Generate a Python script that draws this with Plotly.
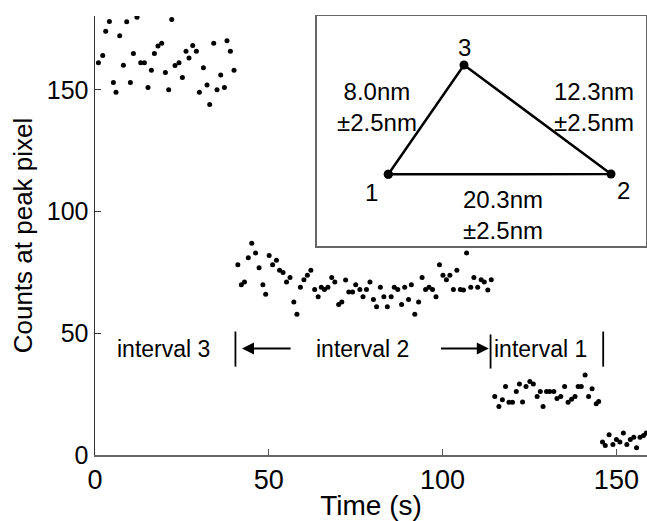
import plotly.graph_objects as go

# ---- data (time in s, counts at peak pixel) ----
t_int3 = [0.98, 2.22, 3.08, 4.14, 5.29, 6.04, 7.11, 8.17, 9.12, 10.18, 11.05, 12.08, 13.15, 14.21,
          15.25, 16.23, 17.09, 18.12, 19.19, 20.25, 21.2, 22.07, 23.02, 24.17, 25.14, 26.18, 27.04,
          28.11, 29.17, 30.03, 31.19, 32.22, 33.0, 34.15, 35.1, 36.16, 37.23, 37.97, 38.95, 39.99]
c_int3 = [161.1, 164.1, 174.0, 178.0, 153.0, 149.0, 172.2, 160.1, 177.9, 153.0, 164.9, 179.8, 161.1,
          161.1, 150.9, 158.0, 164.9, 168.0, 169.1, 157.1, 150.0, 178.8, 160.0, 161.1, 155.0, 165.8,
          163.0, 168.2, 165.8, 149.0, 159.0, 152.0, 143.9, 169.1, 150.0, 156.1, 150.9, 170.1, 165.8, 158.0]

t_int2 = [41.1, 42.1, 43.0, 44.1, 45.1, 46.2, 47.2, 48.3, 49.1, 50.1, 51.1, 52.2, 53.1, 54.1, 55.1,
          56.1, 57.2, 58.1, 59.1, 60.1, 61.1, 62.1, 63.2, 64.2, 65.1, 66.0, 67.0, 68.1, 69.0, 70.1,
          71.0, 72.1, 73.0, 74.1, 75.0, 76.2, 77.1, 78.1, 79.1, 80.1, 81.0, 82.1, 83.1, 84.1, 85.2,
          86.1, 87.1, 88.2, 89.1, 90.2, 91.0, 92.0, 93.1, 94.1, 95.1, 96.1, 97.1, 98.1, 99.1, 100.1,
          101.1, 102.1, 103.1, 104.1, 105.1, 106.0, 106.9, 108.1, 109.0, 110.1, 111.1, 112.0, 113.0, 114.0]
c_int2 = [78.1, 69.9, 71.0, 81.0, 87.0, 83.0, 76.9, 69.9, 66.0, 81.9, 78.1, 80.0, 75.9, 74.9, 71.0,
          72.9, 62.8, 57.8, 68.9, 72.0, 73.8, 75.9, 68.0, 65.0, 68.9, 68.0, 68.9, 72.9, 71.0, 61.8,
          62.8, 71.9, 66.9, 66.9, 69.9, 68.0, 65.0, 68.0, 71.0, 63.9, 60.9, 68.9, 65.0, 60.9, 65.0,
          68.9, 68.0, 61.8, 68.9, 63.9, 69.9, 57.8, 62.8, 72.9, 68.0, 68.9, 68.0, 65.0, 78.1, 73.8,
          72.0, 73.8, 68.0, 75.9, 68.0, 67.8, 83.0, 68.9, 72.9, 68.9, 72.0, 71.0, 67.8, 72.0]

t_int1 = [115.0, 116.2, 117.2, 118.1, 119.1, 120.1, 121.2, 122.1, 123.0, 124.0, 125.1, 126.1, 127.2,
          128.1, 128.9, 129.9, 130.8, 132.0, 132.9, 134.0, 135.1, 136.1, 137.1, 138.1, 139.0, 139.9,
          141.0, 142.0, 143.0, 144.2, 144.9]
c_int1 = [24.0, 19.9, 22.7, 28.1, 21.7, 21.7, 26.1, 29.2, 21.8, 28.1, 30.2, 29.2, 24.0, 26.1, 19.9,
          26.1, 26.1, 26.1, 23.2, 24.0, 28.1, 21.7, 22.9, 24.0, 28.1, 28.1, 32.9, 24.0, 27.2, 21.0, 22.0]

t_bleach = [146.0, 146.8, 147.9, 149.0, 150.0, 151.0, 152.0, 153.0, 154.0, 155.0, 155.8, 156.8, 157.8, 158.6]
c_bleach = [5.3, 3.9, 8.3, 4.3, 6.4, 5.3, 9.0, 4.3, 6.4, 7.3, 3.0, 7.3, 8.0, 9.0]

x_ticks = [0, 50, 100, 150]
y_ticks = [0, 50, 100, 150]

# interval boundaries (s) and labels
interval_edges = [40.4, 113.8, 146.2]
interval_labels = ["interval 3", "interval 2", "interval 1"]
interval_label_x = [19.7, 76.9, 128.2]

# inset schematic (triangle of fluorophore positions)
tri_labels = ["1", "2", "3"]
tri_x = [71.8, 294.5, 147.5]
tri_y = [71.7, 72.0, 181.0]
dist_texts = ["8.0nm<br>±2.5nm", "12.3nm<br>±2.5nm", "20.3nm<br>±2.5nm"]

FONT = "Liberation Sans, Arial, sans-serif"
W, H = 647, 521
L, R, T, B = 95, 0, 16, 66
pw, ph = W - L - R, H - T - B


def px_x(px):
    return (px - L) / pw


def px_y(py):
    return (H - B - py) / ph


fig = go.Figure()
fig.add_trace(go.Scatter(
    x=t_int3 + t_int2 + t_int1 + t_bleach,
    y=c_int3 + c_int2 + c_int1 + c_bleach,
    mode="markers",
    marker=dict(color="black", size=5),
    showlegend=False, hoverinfo="skip"))

# inset triangle
fig.add_trace(go.Scatter(
    x=[tri_x[0], tri_x[2], tri_x[1], tri_x[0]],
    y=[tri_y[0], tri_y[2], tri_y[1], tri_y[0]],
    mode="lines+markers",
    line=dict(color="black", width=2.5),
    marker=dict(color="black", size=9),
    xaxis="x2", yaxis="y2", showlegend=False, hoverinfo="skip"))

annotations = []
# interval texts
y_int = 43.7
for lab, xc in zip(interval_labels, interval_label_x):
    annotations.append(dict(x=xc, y=y_int, xref="x", yref="y", text=lab, showarrow=False,
                            font=dict(family=FONT, size=23, color="black")))
# arrows
annotations.append(dict(x=42.3, y=y_int, ax=56.7, ay=y_int, xref="x", yref="y", axref="x", ayref="y",
                        text="", showarrow=True, arrowhead=2, arrowsize=1.2, arrowwidth=2, arrowcolor="black"))
annotations.append(dict(x=113.3, y=y_int, ax=99.1, ay=y_int, xref="x", yref="y", axref="x", ayref="y",
                        text="", showarrow=True, arrowhead=2, arrowsize=1.2, arrowwidth=2, arrowcolor="black"))

# inset labels
lab_pos = [(55.2, 53.3), (306.8, 56.0), (147.5, 199.0)]
for lab, (lx, ly) in zip(tri_labels, lab_pos):
    annotations.append(dict(x=lx, y=ly, xref="x2", yref="y2", text=lab, showarrow=False,
                            font=dict(family=FONT, size=24, color="black")))
dist_pos = [(60.0, 139.3), (277.0, 139.3), (186.5, 31.5)]
for txt, (dx, dy) in zip(dist_texts, dist_pos):
    annotations.append(dict(x=dx, y=dy, xref="x2", yref="y2", text=txt, showarrow=False,
                            align="center",
                            font=dict(family=FONT, size=24, color="black")))

shapes = []
bar_spans = [(36.3, 50.7), (35.5, 49.5), (36.3, 50.7)]
for xe, (y0, y1) in zip(interval_edges, bar_spans):
    shapes.append(dict(type="line", xref="x", yref="y", x0=xe, x1=xe, y0=y0, y1=y1,
                       line=dict(color="black", width=1.8)))

fig.update_layout(
    width=W, height=H,
    margin=dict(l=L, r=R, t=T, b=B),
    paper_bgcolor="white", plot_bgcolor="white",
    font=dict(family=FONT, color="black"),
    xaxis=dict(range=[0, pw / 3.476], tickvals=x_ticks, ticktext=[str(v) for v in x_ticks],
               ticks="inside", ticklen=6, tickcolor="#555", showline=True, linecolor="#666",
               linewidth=1.5, showgrid=False, zeroline=False,
               tickfont=dict(family=FONT, size=27, color="black"),
               title=dict(text="Time (s)", font=dict(family=FONT, size=28, color="black"), standoff=0)),
    yaxis=dict(range=[0, ph / 2.435], tickvals=y_ticks, ticktext=[str(v) for v in y_ticks],
               ticks="inside", ticklen=6, tickcolor="#333", showline=True, linecolor="#333",
               linewidth=1.5, showgrid=False, zeroline=False,
               tickfont=dict(family=FONT, size=25, color="black"),
               title=dict(text="Counts at peak pixel", font=dict(family=FONT, size=26, color="black"),
                          standoff=6)),
    xaxis2=dict(domain=[px_x(316.5), px_x(645.8)], range=[0, 329.3], anchor="y2",
                showline=True, mirror=True, linecolor="#666", linewidth=1.5,
                showgrid=False, zeroline=False, showticklabels=False, ticks=""),
    yaxis2=dict(domain=[px_y(246), px_y(16)], range=[0, 230], anchor="x2",
                showline=True, mirror=True, linecolor="#666", linewidth=1.5,
                showgrid=False, zeroline=False, showticklabels=False, ticks=""),
    annotations=annotations,
    shapes=shapes,
)

fig.write_html("out.html",
               config={"displayModeBar": False, "staticPlot": True},
               post_script="document.body.style.margin='0px';document.body.style.overflow='hidden';")
